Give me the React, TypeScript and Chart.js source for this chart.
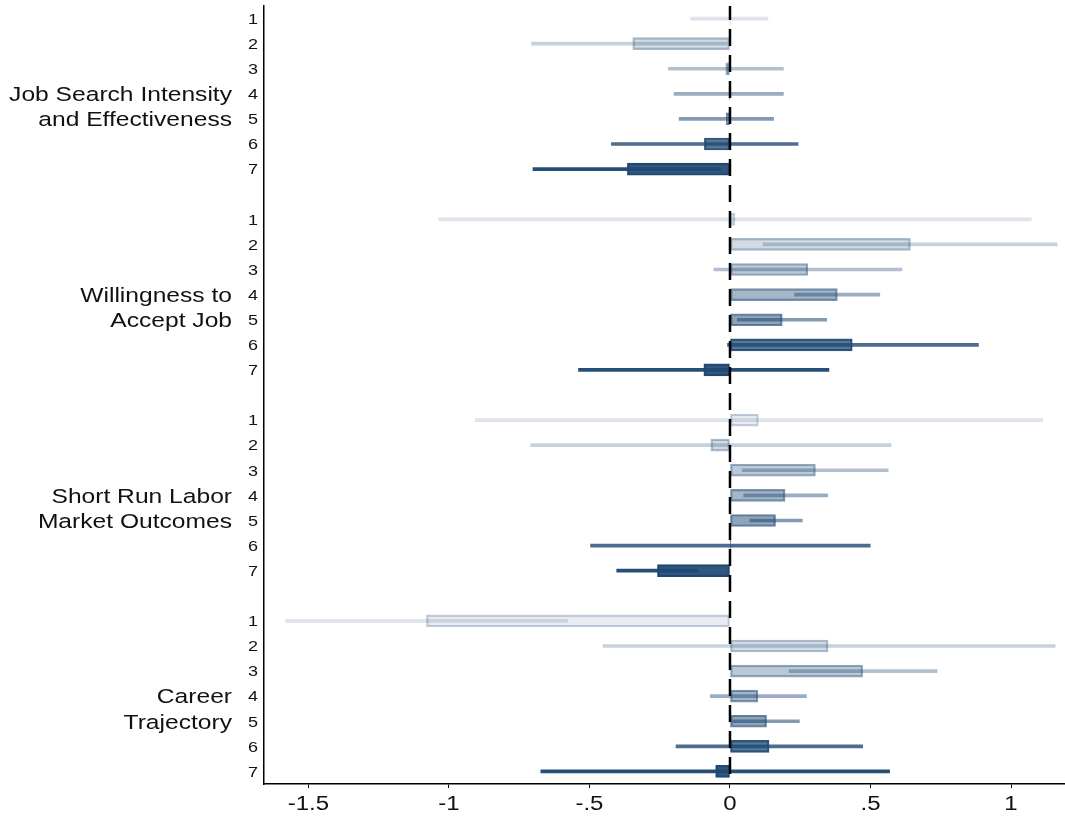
import React, { useEffect, useRef } from "react";
import { Chart, registerables } from "chart.js";

Chart.register(...registerables);

// ---- Data ----
const GROUPS: string[][] = [
  ["Job Search Intensity", "and Effectiveness"],
  ["Willingness to", "Accept Job"],
  ["Short Run Labor", "Market Outcomes"],
  ["Career", "Trajectory"],
];
const ROW_LABELS = ["1", "2", "3", "4", "5", "6", "7"];

const EST_JOB_SEARCH = [0.003, -0.346, -0.015, -0.003, -0.013, -0.091, -0.365];
const LO_JOB_SEARCH = [-0.14, -0.706, -0.219, -0.199, -0.181, -0.422, -0.701];
const HI_JOB_SEARCH = [0.135, -0.01, 0.19, 0.19, 0.155, 0.242, -0.033];

const EST_WILLINGNESS = [0.018, 0.642, 0.277, 0.382, 0.186, 0.435, -0.093];
const LO_WILLINGNESS = [-1.036, 0.118, -0.057, 0.23, 0.026, -0.009, -0.539];
const HI_WILLINGNESS = [1.072, 1.164, 0.612, 0.533, 0.344, 0.884, 0.352];

const EST_SHORT_RUN = [0.101, -0.068, 0.304, 0.196, 0.162, 0.003, -0.258];
const LO_SHORT_RUN = [-0.906, -0.709, 0.044, 0.049, 0.071, -0.496, -0.403];
const HI_SHORT_RUN = [1.113, 0.573, 0.563, 0.348, 0.257, 0.499, -0.115];

const EST_CAREER = [-1.08, 0.349, 0.472, 0.099, 0.13, 0.139, -0.051];
const LO_CAREER = [-1.581, -0.452, 0.21, -0.07, 0.009, -0.192, -0.673];
const HI_CAREER = [-0.578, 1.157, 0.737, 0.272, 0.247, 0.472, 0.568];

const X_TICKS = [-1.5, -1, -0.5, 0, 0.5, 1];
const X_MIN = -1.658;
const X_MAX = 1.192;

// shade intensity for rows 1..7
const ROW_ALPHA = [0.1, 0.2, 0.3, 0.4, 0.5, 0.75, 0.92];
const BASE = "31,73,115";

const ESTS = [EST_JOB_SEARCH, EST_WILLINGNESS, EST_SHORT_RUN, EST_CAREER];
const LOS = [LO_JOB_SEARCH, LO_WILLINGNESS, LO_SHORT_RUN, LO_CAREER];
const HIS = [HI_JOB_SEARCH, HI_WILLINGNESS, HI_SHORT_RUN, HI_CAREER];

const FONT = "'Liberation Sans', Arial, Helvetica, sans-serif";
const HSCALE = 1.2; // reference text is horizontally stretched
const TEXT_COLOR = "#111";

function fmtTick(n: number): string {
  if (n === 0) return "0";
  return String(n).replace(/^0\./, ".").replace(/^-0\./, "-.");
}

function drawStretched(
  ctx: CanvasRenderingContext2D,
  text: string,
  x: number,
  y: number,
  align: CanvasTextAlign,
  size: number
) {
  ctx.save();
  ctx.font = `${size}px ${FONT}`;
  ctx.fillStyle = TEXT_COLOR;
  ctx.textAlign = align;
  ctx.textBaseline = "alphabetic";
  ctx.translate(x, y);
  ctx.scale(HSCALE, 1);
  ctx.fillText(text, 0, 0);
  ctx.restore();
}

export default function App() {
  const ref = useRef<HTMLCanvasElement | null>(null);

  useEffect(() => {
    if (!ref.current) return;

    const labels: string[] = [];
    const barData: any[] = [];
    const ciData: any[] = [];
    const fills: string[] = [];
    const borders: string[] = [];
    const lines: string[] = [];
    const groupRowIndex: number[] = [];

    GROUPS.forEach((_, g) => {
      if (g > 0) {
        labels.push("");
        barData.push(null);
        ciData.push(null);
        fills.push("rgba(0,0,0,0)");
        borders.push("rgba(0,0,0,0)");
        lines.push("rgba(0,0,0,0)");
      }
      groupRowIndex.push(labels.length);
      ROW_LABELS.forEach((lab, r) => {
        labels.push(lab);
        barData.push([0, ESTS[g][r]]);
        ciData.push([LOS[g][r], HIS[g][r]]);
        const a = ROW_ALPHA[r];
        fills.push(`rgba(${BASE},${a})`);
        borders.push(`rgba(${BASE},${Math.min(1, a + 0.18)})`);
        lines.push(`rgba(${BASE},${Math.min(1, a + 0.05)})`);
      });
    });

    const overlay = {
      id: "overlay",
      afterDatasetsDraw(chart: any) {
        const { ctx, chartArea, scales } = chart;
        const x0 = scales.x.getPixelForValue(0);
        ctx.save();
        ctx.strokeStyle = "#000";
        ctx.lineWidth = 2.5;
        ctx.setLineDash([17, 9]);
        ctx.lineDashOffset = 3;
        ctx.beginPath();
        ctx.moveTo(x0, chartArea.top);
        ctx.lineTo(x0, chartArea.bottom);
        ctx.stroke();
        ctx.restore();
      },
      afterDraw(chart: any) {
        const { ctx, scales, chartArea } = chart;
        // y tick labels (row numbers)
        labels.forEach((lab, i) => {
          if (!lab) return;
          const y = scales.y.getPixelForValue(i);
          drawStretched(ctx, lab, 258, y + 5.3, "right", 15);
        });
        // x tick labels
        X_TICKS.forEach((v) => {
          const x = scales.x.getPixelForValue(v);
          drawStretched(ctx, fmtTick(v), x, chartArea.bottom + 26, "center", 20);
        });
        // group labels
        GROUPS.forEach((ls, g) => {
          ls.forEach((t, k) => {
            const y = scales.y.getPixelForValue(groupRowIndex[g] + 3 + k);
            drawStretched(ctx, t, 232, y + 7.3, "right", 20.5);
          });
        });
      },
    };

    const chart = new Chart(ref.current, {
      type: "bar",
      data: {
        labels,
        datasets: [
          {
            label: "CI",
            data: ciData,
            backgroundColor: lines,
            borderWidth: 0,
            barThickness: 3,
            grouped: false,
            order: 0,
          } as any,
          {
            label: "Estimate",
            data: barData,
            backgroundColor: fills,
            borderColor: borders,
            borderWidth: 1.5,
            borderSkipped: false,
            barThickness: 12,
            grouped: false,
            order: 1,
          } as any,
        ],
      },
      options: {
        indexAxis: "y",
        responsive: false,
        devicePixelRatio: 1,
        animation: false,
        layout: { padding: { top: 6, left: 0, right: 0, bottom: 0 } },
        plugins: {
          legend: { display: false },
          tooltip: { enabled: false },
        },
        scales: {
          x: {
            type: "linear",
            min: X_MIN,
            max: X_MAX,
            afterBuildTicks: (scale: any) => {
              scale.ticks = X_TICKS.map((v) => ({ value: v }));
            },
            afterFit: (scale: any) => {
              scale.height = 32;
              scale.paddingLeft = 0;
              scale.paddingRight = 0;
            },
            ticks: {
              color: "rgba(0,0,0,0)",
              font: { family: FONT, size: 20 },
              padding: 5,
              autoSkip: false,
              maxRotation: 0,
              callback: (v: any) => fmtTick(Number(v)),
            },
            grid: {
              display: true,
              drawOnChartArea: false,
              drawTicks: true,
              tickLength: 4,
              color: "#000",
              lineWidth: 1,
            },
            border: { display: true, color: "#000", width: 1.5 },
          },
          y: {
            type: "category",
            offset: true,
            afterFit: (scale: any) => {
              scale.width = 264;
              scale.paddingTop = 0;
              scale.paddingBottom = 0;
            },
            ticks: {
              color: "rgba(0,0,0,0)",
              font: { family: FONT, size: 15 },
              padding: 6,
              autoSkip: false,
            },
            grid: { display: false, drawTicks: false, tickLength: 0 },
            border: { display: true, color: "#000", width: 1.5 },
          },
        },
      },
      plugins: [overlay],
    } as any);

    return () => chart.destroy();
  }, []);

  return (
    <div style={{ position: "fixed", left: 0, top: 0, width: 1065, height: 816, background: "#fff" }}>
      <canvas ref={ref} width={1065} height={816} />
    </div>
  );
}
